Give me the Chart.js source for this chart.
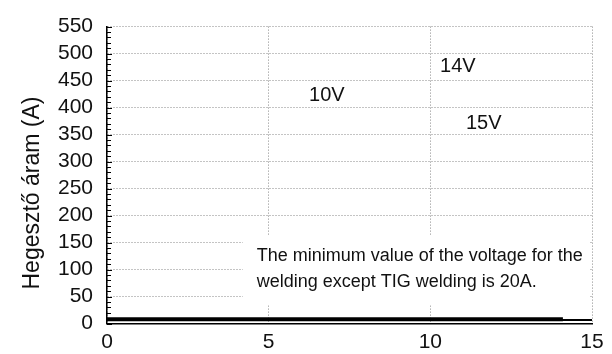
<!DOCTYPE html>
<html>
<head>
<meta charset="utf-8">
<script src="https://cdn.jsdelivr.net/npm/chart.js@4/dist/chart.umd.min.js"></script>
<style>
  html, body { margin: 0; padding: 0; background: #fff; }
  #wrap { width: 612px; height: 354px; }
</style>
</head>
<body>
<div id="wrap"><canvas id="chart" width="612" height="354"></canvas></div>
<script>
// Tengelyek
const xMin = 0, xMax = 15, xStep = 5;
const yMin = 0, yMax = 550, yStep = 50, yMinorStep = 10;
const yTitle = 'Hegesztő áram (A)';

// Vonalak (vastag és vékony szakasz az alján)
const thickX = [0, 14.1];
const thickY = [8, 8];
const thinX = [0, 15];
const thinY = [6.5, 6.5];

// Feszültség feliratok (adat-koordinátában)
const voltLabels = ['10V', '14V', '15V'];
const voltX = [6.8, 10.85, 11.65];
const voltY = [422, 477, 371];

// Megjegyzés
const noteLines = ['The minimum value of the voltage for the', 'welding except TIG welding is 20A.'];

const FONT = "'Liberation Sans', Arial, sans-serif";

function toPoints(xs, ys) {
    return xs.map((x, i) => ({ x: x, y: ys[i] }));
}

const overlay = {
    id: 'overlay',
    beforeDatasetsDraw(chart) {
        const { ctx, scales: { x, y } } = chart;
        ctx.save();
        // feher doboz a megjegyzesnek
        const bx0 = x.getPixelForValue(4.2), bx1 = x.getPixelForValue(14.93);
        const by0 = y.getPixelForValue(164), by1 = y.getPixelForValue(34);
        ctx.fillStyle = '#fff';
        ctx.fillRect(bx0, by0, bx1 - bx0, by1 - by0);

        // kis osztasok a bal tengelyen (befele)
        ctx.strokeStyle = '#000';
        ctx.lineWidth = 1;
        const ax = x.getPixelForValue(xMin);
        for (let v = yMin; v <= yMax; v += yMinorStep) {
            const py = Math.round(y.getPixelForValue(v)) + 0.5;
            const len = v % yStep === 0 ? 5 : 4;
            ctx.beginPath();
            ctx.moveTo(ax, py);
            ctx.lineTo(ax + len, py);
            ctx.stroke();
        }
        ctx.restore();
    },
    afterDatasetsDraw(chart) {
        const { ctx, scales: { x, y } } = chart;
        ctx.save();
        ctx.fillStyle = '#111';
        ctx.textBaseline = 'middle';
        ctx.textAlign = 'center';
        ctx.font = '20px ' + FONT;
        voltLabels.forEach((lab, i) => {
            ctx.fillText(lab, x.getPixelForValue(voltX[i]), y.getPixelForValue(voltY[i]));
        });

        ctx.textAlign = 'left';
        ctx.font = '18px ' + FONT;
        const tx = x.getPixelForValue(4.63);
        ctx.fillText(noteLines[0], tx, y.getPixelForValue(125));
        ctx.fillText(noteLines[1], tx, y.getPixelForValue(77));

        // y tengely cim
        ctx.translate(33, 193);
        ctx.rotate(-Math.PI / 2);
        ctx.textAlign = 'center';
        ctx.font = '23px ' + FONT;
        ctx.fillText(yTitle, 0, 0);
        ctx.restore();
    }
};

const ctx = document.getElementById('chart').getContext('2d');
const chart = new Chart(ctx, {
    type: 'line',
    data: {
        datasets: [
            {
                data: toPoints(thinX, thinY),
                borderColor: '#000',
                borderWidth: 2,
                pointRadius: 0
            },
            {
                data: toPoints(thickX, thickY),
                borderColor: '#000',
                borderWidth: 4,
                pointRadius: 0
            }
        ]
    },
    options: {
        responsive: false,
        animation: false,
        layout: { padding: { top: 23, right: 20, bottom: 0, left: 0 } },
        plugins: {
            legend: { display: false },
            tooltip: { enabled: false }
        },
        scales: {
            x: {
                type: 'linear',
                min: xMin,
                max: xMax,
                ticks: { stepSize: xStep, autoSkip: false, color: '#111', font: { family: FONT, size: 21 }, padding: 6 },
                grid: { color: '#888', lineWidth: 1, drawTicks: false },
                border: { color: '#000', width: 1.5, dash: [1, 2] },
                afterFit(scale) { scale.height = 30.5; }
            },
            y: {
                min: yMin,
                max: yMax,
                ticks: { stepSize: yStep, autoSkip: false, color: '#111', font: { family: FONT, size: 21 }, padding: 14 },
                grid: { color: '#888', lineWidth: 1, drawTicks: false },
                border: { color: '#000', width: 1.5, dash: [1, 2] },
                afterFit(scale) { scale.width = 107; }
            }
        }
    },
    plugins: [overlay]
});
</script>
</body>
</html>
